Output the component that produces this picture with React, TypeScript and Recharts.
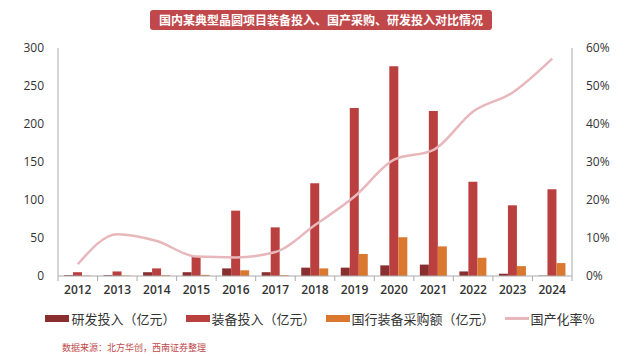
import React from "react";
import { ComposedChart, Bar, Line, XAxis, YAxis } from "recharts";

const years = ["2012", "2013", "2014", "2015", "2016", "2017", "2018", "2019", "2020", "2021", "2022", "2023", "2024"];
const rdInvest = [1, 1, 5, 5, 10, 5, 11, 11, 14, 15, 6, 3, 0.5];
const equipInvest = [5, 6, 10, 25, 86, 64, 122, 221, 276, 217, 124, 93, 114];
const domesticPurchase = [0.5, 0.5, 1, 1.5, 7.5, 1, 10, 29, 51, 39, 24, 13, 17];
const localizationRate = [3.1, 11, 9.2, 5.1, 4.9, 6.3, 13.4, 20.9, 30.6, 33.2, 43.3, 48.3, 57.2];

const leftTicks = [0, 50, 100, 150, 200, 250, 300];
const rightTicks = [0, 10, 20, 30, 40, 50, 60];

const COLORS = {
  rd: "#8a2f2f",
  equip: "#b9403f",
  purchase: "#d9782e",
  rate: "#e8b7bb",
};

const data = years.map((y, i) => ({
  year: y,
  rd: rdInvest[i],
  equip: equipInvest[i],
  purchase: domesticPurchase[i],
  rate: localizationRate[i],
}));

const legendItems = [
  { label: "研发投入（亿元）", color: COLORS.rd, type: "bar" },
  { label: "装备投入（亿元）", color: COLORS.equip, type: "bar" },
  { label: "国行装备采购额（亿元）", color: COLORS.purchase, type: "bar" },
  { label: "国产化率%", color: COLORS.rate, type: "line" },
];

const tickStyle = { fontSize: 12, fill: "#333", fontFamily: "'Open Sans', sans-serif" };

const PLOT_LEFT = 58;
const PLOT_RIGHT = 572;
const PLOT_BOTTOM = 276;
const halfBand = (PLOT_RIGHT - PLOT_LEFT) / years.length / 2;

// year label plus a small tick mark on the category boundary, like the Excel original
const YearTick = (props: any) => {
  const { x, y, payload, index } = props;
  return (
    <g>
      <line x1={x - halfBand} x2={x - halfBand} y1={PLOT_BOTTOM} y2={PLOT_BOTTOM + 5} stroke="#aaa" />
      {index === years.length - 1 && (
        <line x1={x + halfBand} x2={x + halfBand} y1={PLOT_BOTTOM} y2={PLOT_BOTTOM + 5} stroke="#aaa" />
      )}
      <text x={x} y={y} dy={10} textAnchor="middle" {...tickStyle} fontWeight={600}>
        {payload.value}
      </text>
    </g>
  );
};

export default function App() {
  return (
    <div style={{ position: "absolute", left: 0, top: 0, width: 640, height: 356, background: "#fff" }}>
      <div
        style={{
          position: "absolute",
          left: 150,
          top: 10,
          width: 342,
          height: 20,
          background: "#c0484a",
          borderRadius: 3,
          color: "#fff",
          fontSize: 12,
          fontWeight: 700,
          fontFamily: "'Noto Sans CJK SC', sans-serif",
          textAlign: "center",
          lineHeight: "20px",
        }}
      >
        国内某典型晶圆项目装备投入、国产采购、研发投入对比情况
      </div>
      <ComposedChart
        width={640}
        height={356}
        data={data}
        margin={{ top: 48, right: 0, bottom: 50, left: 0 }}
        barCategoryGap="16%"
        barGap={0}
      >
        <XAxis
          dataKey="year"
          tick={<YearTick />}
          tickLine={false}
          axisLine={{ stroke: "#aaa" }}
          height={30}
          tickMargin={2}
          interval={0}
        />
        <YAxis
          yAxisId="left"
          domain={[0, 300]}
          ticks={leftTicks}
          tick={tickStyle}
          tickLine={false}
          axisLine={{ stroke: "#aaa" }}
          width={58}
          tickMargin={8}
        />
        <YAxis
          yAxisId="right"
          orientation="right"
          domain={[0, 60]}
          ticks={rightTicks}
          tickFormatter={(v) => `${v}%`}
          tick={tickStyle}
          tickLine={false}
          axisLine={{ stroke: "#aaa" }}
          width={68}
          tickMargin={8}
        />
        <Bar yAxisId="left" dataKey="rd" fill={COLORS.rd} barSize={9} isAnimationActive={false} />
        <Bar yAxisId="left" dataKey="equip" fill={COLORS.equip} barSize={9} isAnimationActive={false} />
        <Bar yAxisId="left" dataKey="purchase" fill={COLORS.purchase} barSize={9} isAnimationActive={false} />
        <Line
          yAxisId="right"
          type="monotone"
          dataKey="rate"
          stroke={COLORS.rate}
          strokeWidth={2.5}
          dot={false}
          isAnimationActive={false}
        />
      </ComposedChart>
      <div
        style={{
          position: "absolute",
          left: 0,
          top: 309,
          width: 640,
          display: "flex",
          justifyContent: "center",
          gap: 10,
          fontFamily: "'Noto Sans CJK SC', serif",
          fontSize: 13,
          color: "#333",
        }}
      >
        {legendItems.map((it) => (
          <div key={it.label} style={{ display: "flex", alignItems: "center" }}>
            <span
              style={{
                display: "inline-block",
                width: 24,
                height: it.type === "bar" ? 7 : 3,
                background: it.color,
                marginRight: 2,
              }}
            />
            {it.label}
          </div>
        ))}
      </div>
      <div
        style={{
          position: "absolute",
          left: 62,
          top: 341,
          fontSize: 9,
          color: "#c0484a",
          fontFamily: "'Noto Sans CJK SC', sans-serif",
        }}
      >
        数据来源：北方华创，西南证券整理
      </div>
    </div>
  );
}
